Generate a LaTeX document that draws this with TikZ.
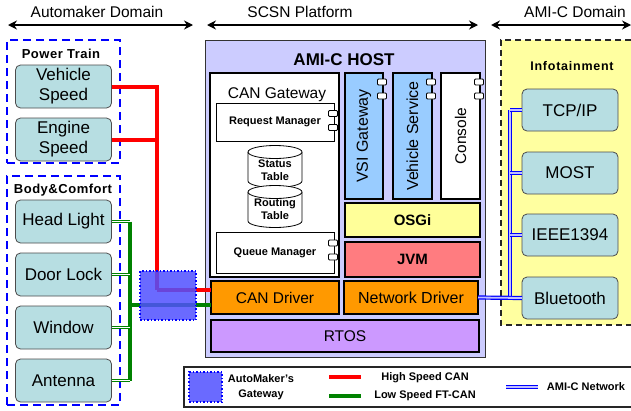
\documentclass[tikz,border=0pt]{standalone}
\usepackage{fontspec}
\setmainfont{Liberation Sans}
\usetikzlibrary{arrows.meta}
\newcommand\fsz[2]{\fontsize{#1}{#2}\selectfont}
\definecolor{tealbox}{RGB}{183,222,226}
\definecolor{hostfill}{RGB}{204,204,255}
\definecolor{infofill}{RGB}{255,255,160}
\definecolor{vsifill}{RGB}{153,204,255}
\definecolor{osgifill}{RGB}{255,255,153}
\definecolor{jvmfill}{RGB}{255,124,128}
\definecolor{drvfill}{RGB}{255,153,0}
\definecolor{rtosfill}{RGB}{204,153,255}
\definecolor{gwfill}{RGB}{80,80,255}
\definecolor{cangreen}{RGB}{0,130,0}
\begin{document}
\begin{tikzpicture}[x=1pt,y=-1pt,
  every node/.style={inner sep=0pt, outer sep=0pt},
  sensor/.style={draw=gray!60!black, line width=0.8pt, fill=tealbox, rounded corners=5pt,
    minimum width=96pt, minimum height=43pt, align=center, font=\fsz{17}{20}},
  domainbox/.style={draw=blue, line width=2.5pt, dash pattern=on 8pt off 5pt},
  domlabel/.style={font=\fsz{13}{15}\bfseries},
  header/.style={font=\fsz{15.5}{17}},
  harrow/.style={line width=2.5pt, {Stealth[length=9pt,width=9pt]}-{Stealth[length=9pt,width=9pt]}},
  layer/.style={draw=black, line width=1.6pt, align=center},
  port/.style={draw=black, fill=white, line width=0.9pt, rounded corners=1pt, minimum width=9pt, minimum height=6pt},
  smallbox/.style={draw=black, line width=0.7pt, fill=white, font=\fsz{11}{13}\bfseries},
  redbus/.style={draw=red, line width=4pt},
  greenbus/.style={draw=cangreen, line width=3.5pt},
  greenstub/.style={draw=cangreen, line width=1.2pt, double=white, double distance=1.3pt},
  bluebus/.style={draw=blue, line width=1.2pt, double=blue!25, double distance=1.8pt},
  gateway/.style={fill=gwfill, fill opacity=0.85, draw=blue, dotted, line width=1.5pt},
]
\useasboundingbox (0,0) rectangle (631,410);
\fill[white] (0,0) rectangle (631,410);

% headers
\node[header] (h1) at (97,12) {Automaker Domain};
\node[header] (h2) at (300,12) {SCSN Platform};
\node[header] (h3) at (575,12) {AMI-C Domain};
\coordinate (a1l) at (8,25); \coordinate (a1r) at (193,25);
\coordinate (a2l) at (207,25); \coordinate (a2r) at (478,25);
\coordinate (a3l) at (491,25); \coordinate (a3r) at (631,25);
\draw[harrow] (a1l) -- (a1r);
\draw[harrow] (a2l) -- (a2r);
\draw[harrow] (a3l) -- (a3r);

% AMI-C domain
\fill[infofill] (501,40) rectangle (631,325);
\coordinate (ib1) at (631,40); \coordinate (ib2) at (501,40);
\coordinate (ib3) at (501,325); \coordinate (ib4) at (631,325);
\draw[draw=gray!30!black, line width=1.5pt, dash pattern=on 6pt off 4pt] (ib1) -- (ib2) -- (ib3) -- (ib4);
\node[font=\fsz{12.5}{14}\bfseries] (info) at (572,66) {\addfontfeature{LetterSpace=6}Infotainment};
\node[sensor, minimum height=42pt] (tcp) at (570,110) {TCP/IP};
\node[sensor, minimum height=42pt] (most) at (570,173) {MOST};
\node[sensor, minimum height=42pt] (ieee) at (570,235) {IEEE1394};
\node[sensor, minimum height=42pt] (bt) at (570,298) {Bluetooth};

% left domains
\node[domainbox, minimum width=113pt, minimum height=123pt] (pt) at (63.5,101.5) {};
\node[domlabel] (ptl) at (61,54) {\addfontfeature{LetterSpace=4}Power Train};
\node[sensor] (vs) at (63.5,86.5) {Vehicle\\Speed};
\node[sensor] (es) at (63.5,139.5) {Engine\\Speed};
\node[domainbox, minimum width=113pt, minimum height=229pt] (bc) at (63.5,290.5) {};
\node[domlabel] (bcl) at (63,190) {\addfontfeature{LetterSpace=4}Body\&Comfort};
\node[sensor] (hl) at (63.5,221.5) {Head Light};
\node[sensor] (dl) at (63.5,274.5) {Door Lock};
\node[sensor] (win) at (63.5,327.5) {Window};
\node[sensor] (ant) at (63.5,380.5) {Antenna};

% host
\node[draw=gray!40!black, line width=1pt, fill=hostfill, minimum width=280pt, minimum height=317pt] (host) at (345,198.5) {};
\node[font=\fsz{17}{19}\bfseries] (hostl) at (344,60) {AMI-C HOST};
\node[draw=black, line width=2.2pt, fill=white, minimum width=129pt, minimum height=204pt] (cgw) at (274.5,175) {};
\node[font=\fsz{15.5}{17}] (cgwl) at (277,95) {CAN Gateway};
\node[smallbox, minimum width=118pt, minimum height=38pt] (rm) at (275,122) {Request Manager};
\node[port] (rmp1) at (333,113.5) {};
\node[port] (rmp2) at (333,127.5) {};
\node[smallbox, minimum width=118pt, minimum height=41pt] (qm) at (275,252.5) {Queue Manager};
\node[port] (qmp1) at (333,243) {};
\node[port] (qmp2) at (333,257) {};

% cylinders
\draw[line width=0.8pt, fill=white] (248,152) -- (248,181) arc[start angle=180, end angle=0, x radius=27, y radius=6.5] -- (302,152);
\draw[line width=0.8pt, fill=white] (275,152) ellipse[x radius=27, y radius=6.5];
\node[font=\fsz{11}{13}\bfseries, align=center] (st) at (275,170) {Status\\Table};
\draw[line width=0.8pt, fill=white] (248,192) -- (248,221) arc[start angle=180, end angle=0, x radius=27, y radius=6.5] -- (302,192);
\draw[line width=0.8pt, fill=white] (275,192) ellipse[x radius=27, y radius=6.5];
\node[font=\fsz{11}{13}\bfseries, align=center] (rt) at (275,209) {Routing\\Table};

% services
\node[layer, fill=vsifill, rotate=90, minimum width=126pt, minimum height=38pt, font=\fsz{16}{18}] (vsi) at (364,136) {VSI Gateway};
\node[layer, fill=vsifill, rotate=90, minimum width=126pt, minimum height=39pt, font=\fsz{16}{18}] (vsv) at (412.5,136) {Vehicle Service};
\node[layer, fill=white, rotate=90, minimum width=126pt, minimum height=39pt, font=\fsz{15.5}{18}] (con) at (460.5,136) {Console};
\node[port] (vp1) at (382,82) {};
\node[port] (vp2) at (382,96) {};
\node[port] (sp1) at (431,82) {};
\node[port] (sp2) at (431,96) {};
\node[port] (cp1) at (479,82) {};
\node[port] (cp2) at (479,96) {};
\node[layer, fill=osgifill, minimum width=135pt, minimum height=34pt, font=\fsz{15}{17}\bfseries] (osgi) at (412.5,220) {OSGi};
\node[layer, fill=jvmfill, minimum width=135pt, minimum height=35pt, font=\fsz{15}{17}\bfseries] (jvm) at (412.5,259.5) {JVM};
\node[layer, fill=drvfill, minimum width=128pt, minimum height=33pt, font=\fsz{15.5}{17}] (cd) at (275,297.5) {CAN Driver};
\node[layer, fill=drvfill, minimum width=134pt, minimum height=33pt, font=\fsz{16}{18}] (nd) at (411,297.5) {Network Driver};
\node[layer, fill=rtosfill, minimum width=268pt, minimum height=32pt, font=\fsz{15.5}{17}] (rtos) at (345,336) {RTOS};

% red bus
\coordinate (rj) at (157,290);
\draw[redbus] (vs.east) -| (rj);
\draw[redbus] (es.east) -| (rj);
\draw[redbus] (rj) -- (rj -| cd.west);
% green bus
\coordinate (gj) at (130,305);
\draw[greenbus] (hl.east -| gj) -- (ant.east -| gj);
\draw[greenstub] (hl.east) -- (hl.east -| gj);
\draw[greenstub] (dl.east) -- (dl.east -| gj);
\draw[greenstub] (win.east) -- (win.east -| gj);
\draw[greenstub] (ant.east) -- (ant.east -| gj);
\draw[greenbus] (gj) -- (gj -| cd.west);
% gateway
\node[gateway, minimum width=56pt, minimum height=49pt] (gw) at (168,295.5) {};

% blue bus
\coordinate (bj) at (510,200);
\draw[bluebus] (tcp.west -| bj) -- (bt.west -| bj);
\draw[bluebus] (tcp.west) -- (tcp.west -| bj);
\draw[bluebus] (most.west) -- (most.west -| bj);
\draw[bluebus] (ieee.west) -- (ieee.west -| bj);
\draw[bluebus] (nd.east) -- (bt.west);

% legend
\coordinate (lg1) at (631,367); \coordinate (lg2) at (184,367);
\coordinate (lg3) at (184,407); \coordinate (lg4) at (631,407);
\draw[draw=gray!30!black, line width=1.5pt] (lg1) -- (lg2) -- (lg3) -- (lg4);
\node[gateway, minimum width=33pt, minimum height=30pt] (lgw) at (205.5,387) {};
\node[font=\fsz{11}{15}\bfseries, align=center] (lgwt) at (261,387) {AutoMaker's\\Gateway};
\coordinate (lr1) at (329,377); \coordinate (lr2) at (361,377);
\coordinate (lgr1) at (329,396); \coordinate (lgr2) at (361,396);
\draw[redbus] (lr1) -- (lr2);
\draw[greenbus] (lgr1) -- (lgr2);
\node[font=\fsz{11}{13}\bfseries] (lrt) at (425,378) {High Speed CAN};
\node[font=\fsz{11}{13}\bfseries] (lgt) at (425,396) {Low Speed FT-CAN};
\coordinate (lb1) at (506,387); \coordinate (lb2) at (538,387);
\draw[bluebus] (lb1) -- (lb2);
\node[font=\fsz{11}{13}\bfseries] (lbt) at (586,387) {AMI-C Network};
\end{tikzpicture}
\end{document}
